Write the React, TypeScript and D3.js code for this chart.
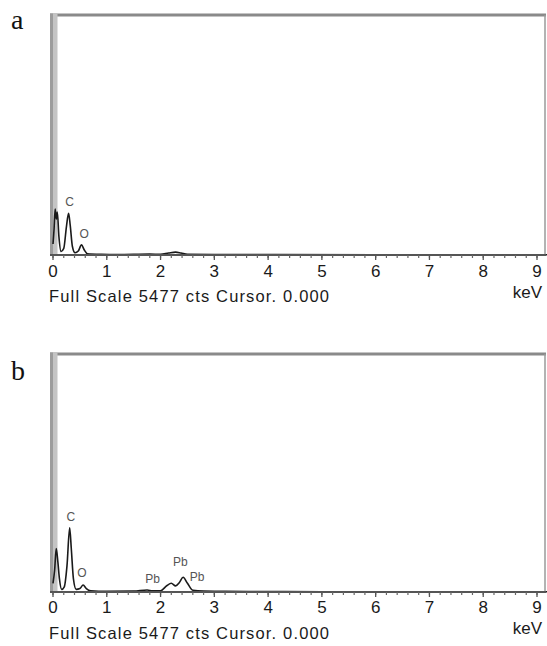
import React from "react";
import * as d3 from "d3";

// ---------- data ----------
const FULL_SCALE = 5477;
const majorTicks = [0, 1, 2, 3, 4, 5, 6, 7, 8, 9];
const minorTicks = d3.range(0, 9.21, 0.2);

// spectrum a: [keV, counts]
const spectrumA: [number, number][] = [
  [0.0, 250], [0.02, 600], [0.04, 1050], [0.06, 820], [0.08, 980], [0.11, 420],
  [0.15, 80], [0.2, 150], [0.25, 650], [0.29, 950], [0.32, 680], [0.36, 200],
  [0.41, 50], [0.47, 90], [0.53, 230], [0.58, 120], [0.64, 30], [0.9, 15],
  [1.2, 10], [1.8, 20], [2.0, 15], [2.15, 45], [2.28, 65], [2.38, 45],
  [2.5, 15], [3.0, 10], [4.0, 8], [6.0, 5], [9.27, 5],
];
// spectrum b
const spectrumB: [number, number][] = [
  [0.0, 200], [0.03, 500], [0.06, 1000], [0.09, 700], [0.12, 300], [0.16, 60],
  [0.21, 120], [0.26, 600], [0.31, 1480], [0.34, 1000], [0.38, 300], [0.43, 60],
  [0.5, 80], [0.56, 160], [0.62, 80], [0.7, 30], [1.0, 15], [1.5, 20],
  [1.75, 45], [1.85, 25], [2.0, 30], [2.12, 150], [2.2, 200], [2.28, 140],
  [2.35, 220], [2.42, 340], [2.5, 200], [2.6, 40], [2.8, 20], [3.2, 15],
  [4.0, 10], [5.0, 5], [9.27, 5],
];

type PeakLabel = { text: string; keV: number; counts: number };
const labelsA: PeakLabel[] = [
  { text: "C", keV: 0.31, counts: 1190 },
  { text: "O", keV: 0.58, counts: 456 },
];
const labelsB: PeakLabel[] = [
  { text: "C", keV: 0.33, counts: 1696 },
  { text: "O", keV: 0.54, counts: 412 },
  { text: "Pb", keV: 1.85, counts: 275 },
  { text: "Pb", keV: 2.37, counts: 664 },
  { text: "Pb", keV: 2.68, counts: 320 },
];

const panelLetters = ["a", "b"];
const footerText = "Full Scale 5477 cts Cursor. 0.000";
const unitText = "keV";

// ---------- layout ----------
type PanelCfg = {
  letter: string;
  spectrum: [number, number][];
  labels: PeakLabel[];
  top: number;
  base: number;
  x0: number;
  x9: number;
  tickLabelDy: number;
  footerDy: number;
  unitDy: number;
  letterY: number;
};

const panels: PanelCfg[] = [
  { letter: panelLetters[0], spectrum: spectrumA, labels: labelsA, top: 15, base: 255, x0: 53, x9: 537, tickLabelDy: 22, footerDy: 47, unitDy: 43, letterY: 29 },
  { letter: panelLetters[1], spectrum: spectrumB, labels: labelsB, top: 354, base: 592, x0: 53, x9: 537, tickLabelDy: 21, footerDy: 47, unitDy: 42, letterY: 380 },
];

const RIGHT = 545;
const LEFT_BAR = 50;

function Panel({ p }: { p: PanelCfg }) {
  const x = d3.scaleLinear().domain([0, 9]).range([p.x0, p.x9]);
  const y = d3.scaleLinear().domain([0, FULL_SCALE]).range([p.base, p.top]);
  const line = d3
    .line<[number, number]>()
    .x((d) => x(d[0]))
    .y((d) => y(d[1]))
    .curve(d3.curveMonotoneX);
  const font = "Liberation Sans, Arial, sans-serif";
  return (
    <g>
      <text x={11} y={p.letterY} fontFamily="Liberation Serif, Times New Roman, serif" fontSize={28} fill="#111">
        {p.letter}
      </text>
      {/* frame */}
      <line x1={LEFT_BAR} x2={RIGHT + 1} y1={p.top} y2={p.top} stroke="#8a8a8a" strokeWidth={3} />
      <line x1={RIGHT} x2={RIGHT} y1={p.top} y2={p.base} stroke="#9a9a9a" strokeWidth={1.5} />
      <rect x={LEFT_BAR} y={p.top - 1.5} width={7.5} height={p.base - p.top + 1.5} fill="#c4c4c4" />
      <rect x={LEFT_BAR} y={p.top - 1.5} width={3} height={p.base - p.top + 1.5} fill="#9c9c9c" />
      {/* spectrum */}
      <path d={line(p.spectrum) || ""} fill="none" stroke="#1a1a1a" strokeWidth={1.6} />
      {/* axis */}
      <line x1={LEFT_BAR} x2={RIGHT + 1} y1={p.base} y2={p.base} stroke="#555" strokeWidth={1.8} />
      {minorTicks.map((t, i) => (
        <line key={"m" + i} x1={x(t)} x2={x(t)} y1={p.base} y2={p.base + 3} stroke="#666" strokeWidth={1.2} />
      ))}
      {majorTicks.map((t) => (
        <g key={t}>
          <line x1={x(t)} x2={x(t)} y1={p.base} y2={p.base + 5} stroke="#555" strokeWidth={1.3} />
          <text x={x(t)} y={p.base + p.tickLabelDy} textAnchor="middle" fontFamily={font} fontSize={17} fill="#1a1a1a">
            {t}
          </text>
        </g>
      ))}
      {/* peak labels */}
      {p.labels.map((l, i) => (
        <text key={i} x={x(l.keV)} y={y(l.counts)} textAnchor="middle" dominantBaseline="middle" fontFamily={font} fontSize={12} fill="#555">
          {l.text}
        </text>
      ))}
      <text x={49} y={p.base + p.footerDy} fontFamily={font} fontSize={16.5} fill="#1a1a1a" textLength={280} lengthAdjust="spacing">
        {footerText}
      </text>
      <text x={542} y={p.base + p.unitDy} textAnchor="end" fontFamily={font} fontSize={17} fill="#1a1a1a">
        {unitText}
      </text>
    </g>
  );
}

export default function App() {
  return (
    <svg width={547} height={646} style={{ position: "absolute", left: 0, top: 0, background: "#fff" }}>
      <rect width={547} height={646} fill="#fff" />
      {panels.map((p) => (
        <Panel key={p.letter} p={p} />
      ))}
    </svg>
  );
}
